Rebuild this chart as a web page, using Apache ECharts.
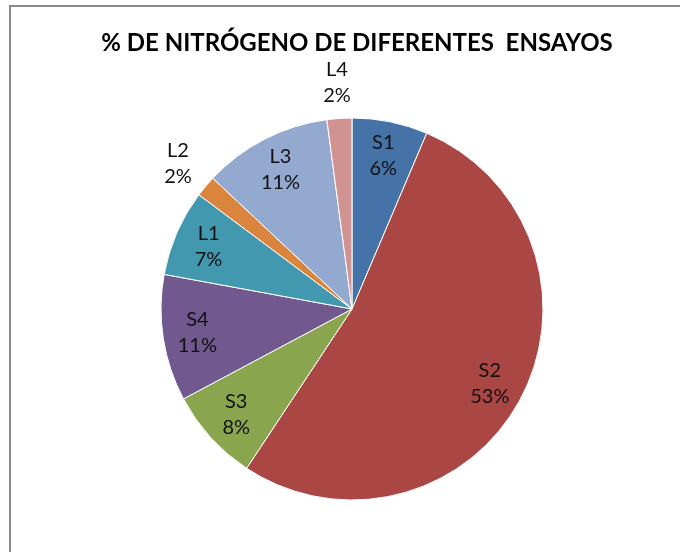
<!DOCTYPE html>
<html>
<head>
<meta charset="utf-8">
<script src="https://cdn.jsdelivr.net/npm/echarts@6/dist/echarts.min.js"></script>
<style>
  html, body { margin: 0; padding: 0; background: #fff; }
  #chart { width: 680px; height: 552px; }
</style>
</head>
<body>
<div id="chart"></div>
<script>
// ensayos, en sentido horario desde arriba
const categories = ['S1', 'S2', 'S3', 'S4', 'L1', 'L2', 'L3', 'L4'];
const values = [6.4, 52.9, 7.9, 10.7, 7.3, 1.8, 10.9, 2.1];
const colors = ['#4572A7', '#AA4643', '#89A54E', '#71588F', '#4198AF', '#DB843D', '#93A9CF', '#D19392'];
const outsideLabels = ['L2', 'L4']; // etiquetas fuera del pastel

const chart = echarts.init(document.getElementById('chart'));

const sliceData = categories.map((name, i) => ({
  name: name,
  value: values[i],
  itemStyle: { color: colors[i] }
}));

// series transparentes solo para colocar las etiquetas (dentro y fuera)
const innerLabelData = categories.map((name, i) => ({
  name: name,
  value: values[i],
  label: { show: !outsideLabels.includes(name) }
}));
const outerLabelData = categories.map((name, i) => ({
  name: name,
  value: values[i],
  label: { show: outsideLabels.includes(name) }
}));

const labelStyle = {
  position: 'inside',
  formatter: p => p.name + '\n' + Math.round(p.percent) + '%',
  fontFamily: 'Lato',
  fontSize: 20,
  lineHeight: 26,
  color: '#111'
};

const option = {
  animation: false,
  title: {
    text: '% DE NITRÓGENO DE DIFERENTES  ENSAYOS',
    left: 352,
    top: 26,
    textAlign: 'center',
    textStyle: {
      fontFamily: 'Lato',
      fontWeight: 'bold',
      fontSize: 24,
      color: '#000'
    }
  },
  graphic: [{
    type: 'rect',
    shape: { x: 10, y: 6, width: 700, height: 600 },
    style: { fill: 'none', stroke: '#8a8a8a', lineWidth: 2 }
  }],
  series: [
    {
      type: 'pie',
      center: [352, 309],
      radius: 191,
      clockwise: true,
      startAngle: 90,
      data: sliceData,
      label: { show: false },
      labelLine: { show: false },
      itemStyle: { borderColor: '#fff', borderWidth: 1 }
    },
    {
      type: 'pie',
      center: [352, 309],
      radius: [116, 191],
      startAngle: 90,
      silent: true,
      data: innerLabelData,
      itemStyle: { color: 'rgba(0,0,0,0)' },
      label: labelStyle,
      labelLine: { show: false }
    },
    {
      type: 'pie',
      center: [352, 309],
      radius: [200, 248],
      startAngle: 90,
      silent: true,
      data: outerLabelData,
      itemStyle: { color: 'rgba(0,0,0,0)' },
      label: labelStyle,
      labelLine: { show: false }
    }
  ]
};

chart.setOption(option);
</script>
</body>
</html>
